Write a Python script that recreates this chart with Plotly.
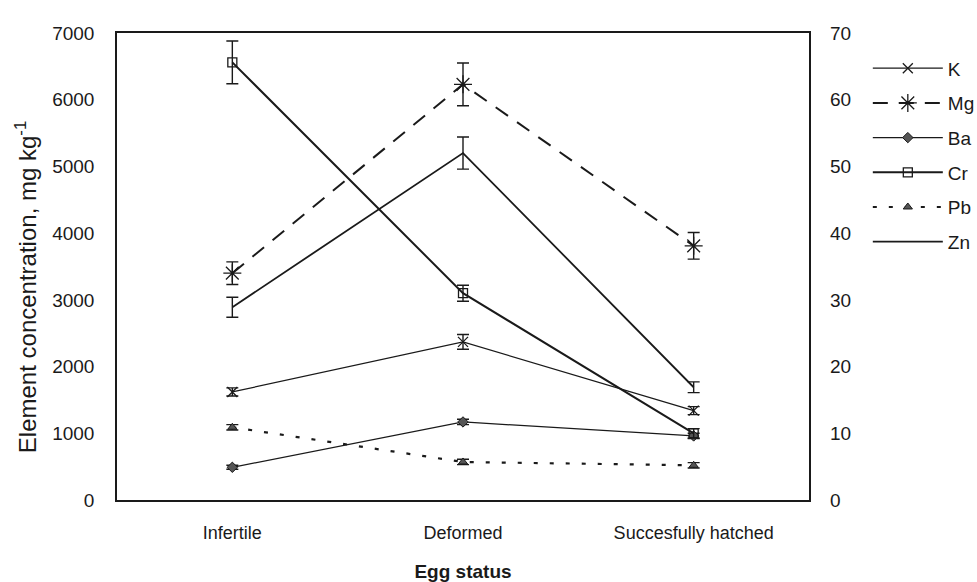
import plotly.graph_objects as go

categories = ["Infertile", "Deformed", "Succesfully hatched"]

# left axis (mg kg-1)
K = [1620, 2370, 1340]
K_err = [60, 110, 60]
Mg = [3400, 6230, 3810]
Mg_err = [170, 320, 200]

# right axis (mg kg-1)
Ba = [4.9, 11.7, 9.6]
Ba_err = [0.3, 0.4, 0.4]
Cr = [65.6, 31.0, 10.0]
Cr_err = [3.2, 1.2, 0.7]
Pb = [10.9, 5.7, 5.2]
Pb_err = [0.4, 0.4, 0.4]
Zn = [28.9, 52.0, 16.9]
Zn_err = [1.5, 2.4, 0.8]

FONT = "Liberation Sans, Arial, sans-serif"
INK = "#1a1a1a"

fig = go.Figure()

def add(name, y, err, axis, line, marker, group):
    fig.add_trace(go.Scatter(
        x=categories, y=y, name=name, yaxis=axis,
        mode="lines+markers" if marker else "lines",
        line=line, marker=marker or {},
        error_y=dict(type="data", array=err, color=INK, thickness=1.4, width=6),
        legendgroup=group,
    ))

add("K", K, K_err, "y", dict(color=INK, width=1.2), dict(symbol="x-thin-open", size=10, line=dict(color=INK, width=1.3)), "g1")
add("Mg", Mg, Mg_err, "y", dict(color=INK, width=2, dash="15px,11px"), dict(symbol="asterisk-open", size=15, line=dict(color=INK, width=1.3)), "g2")
add("Ba", Ba, Ba_err, "y2", dict(color=INK, width=1.2), dict(symbol="diamond", size=8, color="#555", line=dict(color=INK, width=1)), "g3")
add("Cr", Cr, Cr_err, "y2", dict(color=INK, width=2), dict(symbol="square-open", size=9, color=INK, line=dict(color=INK, width=1.3)), "g4")
add("Pb", Pb, Pb_err, "y2", dict(color=INK, width=2.2, dash="4px,12px"), dict(symbol="triangle-up", size=8, color="#555", line=dict(color=INK, width=1)), "g5")
add("Zn", Zn, Zn_err, "y2", dict(color=INK, width=1.8), None, "g6")

fig.update_layout(
    width=977, height=582,
    margin=dict(l=117, r=168, t=33, b=82, autoexpand=False),
    paper_bgcolor="white", plot_bgcolor="white",
    font=dict(family=FONT, size=19, color=INK),
    showlegend=True,
    legend=dict(x=1.085, y=0.965, xanchor="left", yanchor="top",
                font=dict(size=19), itemwidth=70, tracegroupgap=7,
                bgcolor="rgba(0,0,0,0)"),
    xaxis=dict(type="category", range=[-0.5, 2.5], showline=True, mirror=True,
               linecolor=INK, linewidth=1.5, ticks="", showgrid=False,
               automargin=False,
               tickfont=dict(size=18), ticklabelstandoff=16,
               title=dict(text="<b>Egg status</b>", font=dict(size=19), standoff=26)),
    yaxis=dict(range=[0, 7000], dtick=1000, showline=True, mirror=True,
               linecolor=INK, linewidth=1.5, ticks="", showgrid=False,
               automargin=False,
               zeroline=False, tickfont=dict(size=19), ticklabelstandoff=17),
    yaxis2=dict(range=[0, 70], dtick=10, overlaying="y", side="right",
                showline=False, ticks="", showgrid=False, zeroline=False,
                automargin=False,
                tickfont=dict(size=19), ticklabelstandoff=20),
    annotations=[dict(text="Element concentration, mg kg<sup>-1</sup>",
                      xref="paper", yref="paper", x=-0.132, y=0.455,
                      xanchor="center", yanchor="middle",
                      textangle=-90, showarrow=False,
                      font=dict(size=24, family=FONT, color=INK))],
)

fig.write_html("out.html", config={"displayModeBar": False},
               post_script="document.body.style.margin='0';")
